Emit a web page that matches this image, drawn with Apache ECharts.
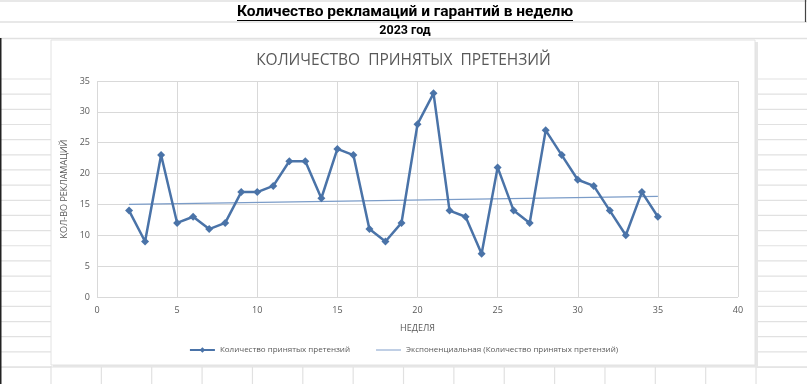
<!DOCTYPE html>
<html><head><meta charset="utf-8">
<script src="https://cdn.jsdelivr.net/npm/echarts@6/dist/echarts.min.js"></script>
<style>html,body{margin:0;padding:0;background:#fff}#c{width:807px;height:384px}</style>
</head><body><div id="c"></div>
<script>
var weeks = [2,3,4,5,6,7,8,9,10,11,12,13,14,15,16,17,18,19,20,21,22,23,24,25,26,27,28,29,30,31,32,33,34,35];
var claims = [14,9,23,12,13,11,12,17,17,18,22,22,16,24,23,11,9,12,28,33,14,13,7,21,14,12,27,23,19,18,14,10,17,13];
var trendX = [2,35];
var trendY = [15.0,16.3];
var xTicks = {min:0,max:40,interval:5};
var yTicks = {min:0,max:35,interval:5};
var seriesName = 'Количество принятых претензий';
var trendName = 'Экспоненциальная (Количество принятых претензий)';
var sheetTitle = 'Количество рекламаций и гарантий в неделю';
var sheetSub = '2023 год';
var chartTitle = 'КОЛИЧЕСТВО  ПРИНЯТЫХ  ПРЕТЕНЗИЙ';

var cellCol = '#e1e1e1';
var g = [];
[1,22,38.5].forEach(function(y){g.push({type:'line',z:-10,shape:{x1:0,y1:y,x2:807,y2:y},style:{stroke:cellCol,lineWidth:1.5}});});
for (var i=0;i<20;i++){var y=79+i*15.16;
 g.push({type:'line',z:-10,shape:{x1:0,y1:y,x2:51,y2:y},style:{stroke:cellCol,lineWidth:1.2}});
 g.push({type:'line',z:-10,shape:{x1:757,y1:y,x2:807,y2:y},style:{stroke:cellCol,lineWidth:1.2}});}
for (var j=0;j<15;j++){var x=51+j*50.36;
 g.push({type:'line',z:-10,shape:{x1:x,y1:366,x2:x,y2:384},style:{stroke:cellCol,lineWidth:1.2}});}
g.push({type:'line',z:-10,shape:{x1:0,y1:367,x2:807,y2:367},style:{stroke:cellCol,lineWidth:1.2}});
g.push({type:'line',z:-5,shape:{x1:0.75,y1:38,x2:0.75,y2:384},style:{stroke:'#222',lineWidth:1.5}});
g.push({type:'line',z:-5,shape:{x1:805.5,y1:0,x2:805.5,y2:22},style:{stroke:'#444',lineWidth:1.2}});
g.push({type:'rect',z:-8,shape:{x:53,y:42,width:705,height:325},style:{fill:'#e6e6e6'}});
g.push({type:'rect',z:-7,shape:{x:51,y:40,width:704,height:325},style:{fill:'#fff',stroke:'#e2e2e2',lineWidth:1}});
g.push({type:'text',z:5,x:405,y:12,style:{text:sheetTitle,font:'bold 15.5px Roboto',fill:'#000',align:'center',verticalAlign:'middle'}});
g.push({type:'line',z:5,shape:{x1:237,y1:20.5,x2:573,y2:20.5},style:{stroke:'#000',lineWidth:1}});
g.push({type:'text',z:5,x:405,y:31,style:{text:sheetSub,font:'bold 12.5px Roboto',fill:'#000',align:'center',verticalAlign:'middle'}});

var chart = echarts.init(document.getElementById('c'));
chart.setOption({
 animation:false,
 backgroundColor:'#fff',
 graphic:g,
 title:{text:chartTitle,left:'center',top:48,textStyle:{fontFamily:'Open Sans',fontSize:15.5,fontWeight:'normal',color:'#595959'}},
 grid:{left:97,right:69,top:81,bottom:87},
 xAxis:{type:'value',min:xTicks.min,max:xTicks.max,interval:xTicks.interval,
  name:'НЕДЕЛЯ',nameLocation:'middle',nameGap:27,nameTextStyle:{color:'#595959',fontSize:9,fontFamily:'Open Sans'},
  axisLine:{show:false},axisTick:{show:false},
  axisLabel:{color:'#595959',fontSize:9,fontFamily:'Open Sans',margin:9},
  splitLine:{show:true,lineStyle:{color:'#d9d9d9',width:1}}},
 yAxis:{type:'value',min:yTicks.min,max:yTicks.max,interval:yTicks.interval,
  name:'КОЛ-ВО РЕКЛАМАЦИЙ',nameLocation:'middle',nameGap:27,nameRotate:90,nameTextStyle:{color:'#595959',fontSize:9,fontFamily:'Open Sans'},
  axisLine:{show:false},axisTick:{show:false},
  axisLabel:{color:'#595959',fontSize:9,fontFamily:'Open Sans',margin:7},
  splitLine:{show:true,lineStyle:{color:'#d9d9d9',width:1}}},
 legend:{bottom:25,left:'center',itemGap:26,itemWidth:25,itemHeight:7,
  textStyle:{color:'#595959',fontSize:8,fontFamily:'Open Sans'},
  data:[{name:seriesName},{name:trendName,icon:'path://M0,0h26v1h-26z',itemStyle:{color:'#7b9cc8'}}]},
 series:[
  {name:seriesName,type:'line',data:weeks.map(function(w,i){return [w,claims[i]];}),
   symbol:'diamond',symbolSize:8,lineStyle:{color:'#4a73a8',width:2.5},itemStyle:{color:'#4a73a8'},z:2},
  {name:trendName,type:'line',data:trendX.map(function(x,i){return [x,trendY[i]];}),symbol:'none',
   lineStyle:{color:'#7b9cc8',width:1.2},itemStyle:{color:'#7b9cc8'},z:1}
 ]
});
</script></body></html>
